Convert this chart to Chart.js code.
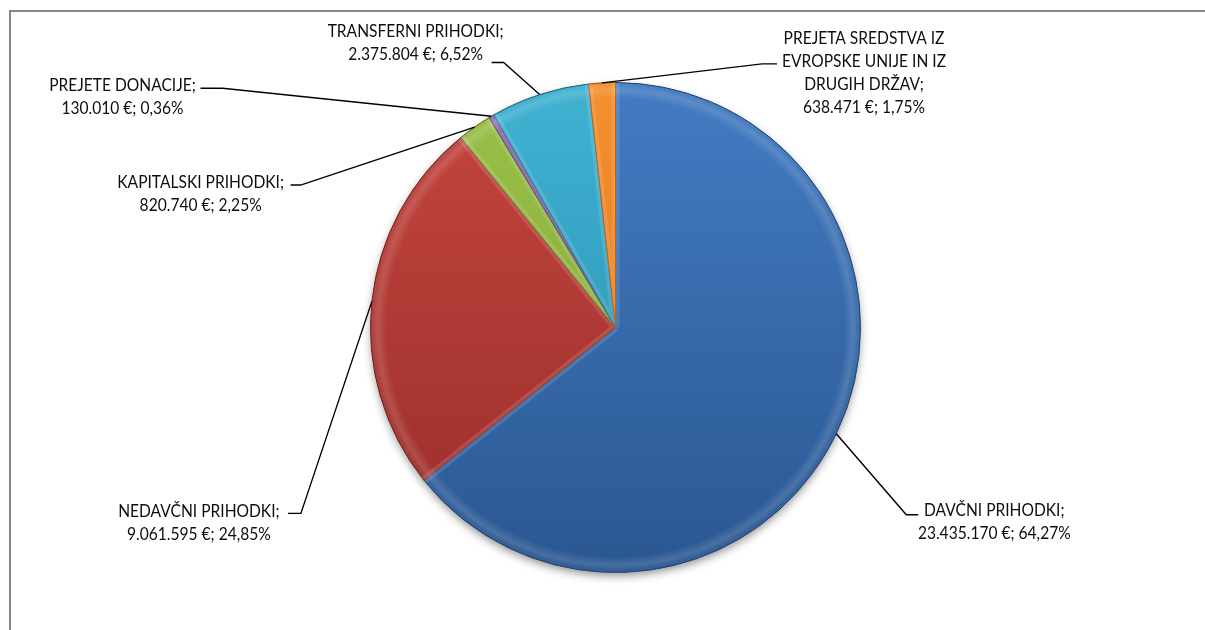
<!DOCTYPE html>
<html><head><meta charset="utf-8">
<script src="https://cdn.jsdelivr.net/npm/chart.js@4.4.1/dist/chart.umd.min.js"></script>
<style>html,body{margin:0;padding:0;background:#fff;overflow:hidden}canvas{display:block}</style>
</head><body>
<canvas id="c" width="1205" height="630"></canvas>
<script>
// ---- data ----
const categories = ['DAVČNI PRIHODKI', 'NEDAVČNI PRIHODKI', 'KAPITALSKI PRIHODKI', 'PREJETE DONACIJE', 'TRANSFERNI PRIHODKI', 'PREJETA SREDSTVA IZ EVROPSKE UNIJE IN IZ DRUGIH DRŽAV'];
const amounts = [23435170, 9061595, 820740, 130010, 2375804, 638471];

// ---- styles ----
const colorsLight = ['#437cc3', '#c6463f', '#9cc14a', '#8668ac', '#40b2d2', '#f58f30'];
const colorsDark  = ['#2a5791', '#982d2a', '#7a9f31', '#674b8f', '#268cab', '#d97214'];
const edgeColors  = ['#22497e', '#7a221e', '#5f7a22', '#4b356e', '#1c6d86', '#a9560c'];
// label geometry relative to the slice edge point at mid-angle: elbow offset, horizontal stub, text first-line centre
const labelLayout = [
  {elbow: [70, 81],    stub: 12,  text: [158, 76]},
  {elbow: [-71, 212],  stub: -13, text: [-173, 209]},
  {elbow: [-174, 58],  stub: -10, text: [-274, 55]},
  {elbow: [-269, -28], stub: -22, text: [-369, -32]},
  {elbow: [-36, -32],  stub: -12, text: [-124, -64]},
  {elbow: [160, -19],  stub: 15,  text: [262, -45]}
];
const FONT_FAMILY = 'Lato, "Open Sans", sans-serif';
const FONT_SIZE = 16.5;
const LINE_H = 23;
const WRAP_W = 185;

const total = amounts.reduce((a, b) => a + b, 0);
function fmtAmount(v) { return String(v).replace(/\B(?=(\d{3})+(?!\d))/g, '.') + ' €'; }
function fmtPct(v) { return (v / total * 100).toFixed(2).replace('.', ',') + '%'; }

function gradFor(ctx, i) {
  const chart = ctx.chart; const a = chart.chartArea;
  if (!a) return colorsLight[i];
  const g = chart.ctx.createLinearGradient(0, a.top, 0, a.bottom);
  g.addColorStop(0, colorsLight[i]);
  g.addColorStop(1, colorsDark[i]);
  return g;
}

const framePlugin = {
  id: 'frame',
  beforeDraw(chart) {
    const c = chart.ctx; c.save();
    c.fillStyle = '#fff'; c.fillRect(0, 0, chart.width, chart.height);
    c.strokeStyle = '#878787'; c.lineWidth = 2;
    c.beginPath(); c.moveTo(10, chart.height + 5); c.lineTo(10, 11); c.lineTo(chart.width + 5, 11); c.stroke();
    c.restore();
  }
};

const shadowPlugin = {
  id: 'pieShadow',
  beforeDatasetsDraw(chart) {
    const el = chart.getDatasetMeta(0).data[0]; if (!el) return;
    const p = el.getProps(['x', 'y', 'outerRadius'], true);
    const c = chart.ctx; c.save();
    c.shadowColor = 'rgba(0,0,0,0.45)'; c.shadowBlur = 10; c.shadowOffsetY = 4;
    c.fillStyle = '#888'; c.beginPath(); c.arc(p.x, p.y, p.outerRadius - 1, 0, Math.PI * 2); c.fill();
    c.restore();
  }
};

const bevelPlugin = {
  id: 'bevel',
  afterDatasetsDraw(chart) {
    const c = chart.ctx;
    chart.getDatasetMeta(0).data.forEach((el, i) => {
      const p = el.getProps(['x', 'y', 'startAngle', 'endAngle', 'outerRadius'], true);
      const r = p.outerRadius;
      c.save();
      c.beginPath(); c.moveTo(p.x, p.y); c.arc(p.x, p.y, r, p.startAngle, p.endAngle); c.closePath();
      c.clip();
      const rg = c.createRadialGradient(p.x, p.y, r - 16, p.x, p.y, r);
      rg.addColorStop(0, 'rgba(255,255,255,0)');
      rg.addColorStop(0.55, 'rgba(255,255,255,0.14)');
      rg.addColorStop(0.85, 'rgba(255,255,255,0.04)');
      rg.addColorStop(1, 'rgba(0,0,0,0.18)');
      c.fillStyle = rg; c.fillRect(p.x - r, p.y - r, 2 * r, 2 * r);
      c.strokeStyle = 'rgba(255,255,255,0.12)'; c.lineWidth = 8;
      c.beginPath();
      c.moveTo(p.x, p.y); c.lineTo(p.x + r * Math.cos(p.startAngle), p.y + r * Math.sin(p.startAngle));
      c.moveTo(p.x, p.y); c.lineTo(p.x + r * Math.cos(p.endAngle), p.y + r * Math.sin(p.endAngle));
      c.stroke();
      c.restore();
    });
  }
};

const labelPlugin = {
  id: 'leaderLabels',
  afterDatasetsDraw(chart) {
    const c = chart.ctx;
    c.save();
    c.font = FONT_SIZE + 'px ' + FONT_FAMILY;
    const sx = 176 / c.measureText('TRANSFERNI PRIHODKI;').width; // horizontal condensing
    chart.getDatasetMeta(0).data.forEach((el, i) => {
      const p = el.getProps(['x', 'y', 'startAngle', 'endAngle', 'outerRadius'], true);
      const mid = (p.startAngle + p.endAngle) / 2;
      const ex = p.x + p.outerRadius * Math.cos(mid), ey = p.y + p.outerRadius * Math.sin(mid);
      const L = labelLayout[i];
      const bx = ex + L.elbow[0], by = ey + L.elbow[1];
      c.strokeStyle = '#000'; c.lineWidth = 1.4;
      c.beginPath(); c.moveTo(ex, ey); c.lineTo(bx, by); c.lineTo(bx + L.stub, by); c.stroke();
      const words = (categories[i] + ';').split(' ');
      const lines = []; let cur = '';
      words.forEach(w => {
        const t = cur ? cur + ' ' + w : w;
        if (c.measureText(t).width * sx > WRAP_W && cur) { lines.push(cur); cur = w; } else cur = t;
      });
      lines.push(cur);
      lines.push(fmtAmount(amounts[i]) + '; ' + fmtPct(amounts[i]));
      c.fillStyle = '#0d0d0d'; c.textAlign = 'center'; c.textBaseline = 'middle';
      const tx = ex + L.text[0], ty = ey + L.text[1];
      lines.forEach((ln, k) => {
        c.save(); c.translate(tx, ty + k * LINE_H + 1); c.scale(sx, 1);
        c.fillText(ln, 0, 0); c.restore();
      });
    });
    c.restore();
  }
};

new Chart(document.getElementById('c'), {
  type: 'pie',
  data: {
    labels: categories,
    datasets: [{
      data: amounts,
      backgroundColor: ctx => gradFor(ctx, ctx.dataIndex),
      borderColor: ctx => edgeColors[ctx.dataIndex],
      borderWidth: 1
    }]
  },
  options: {
    responsive: false,
    devicePixelRatio: 1,
    animation: false,
    layout: {padding: {left: 370, right: 344, top: 82, bottom: 57}},
    plugins: {legend: {display: false}, tooltip: {enabled: false}}
  },
  plugins: [framePlugin, shadowPlugin, bevelPlugin, labelPlugin]
});
</script>
</body></html>
